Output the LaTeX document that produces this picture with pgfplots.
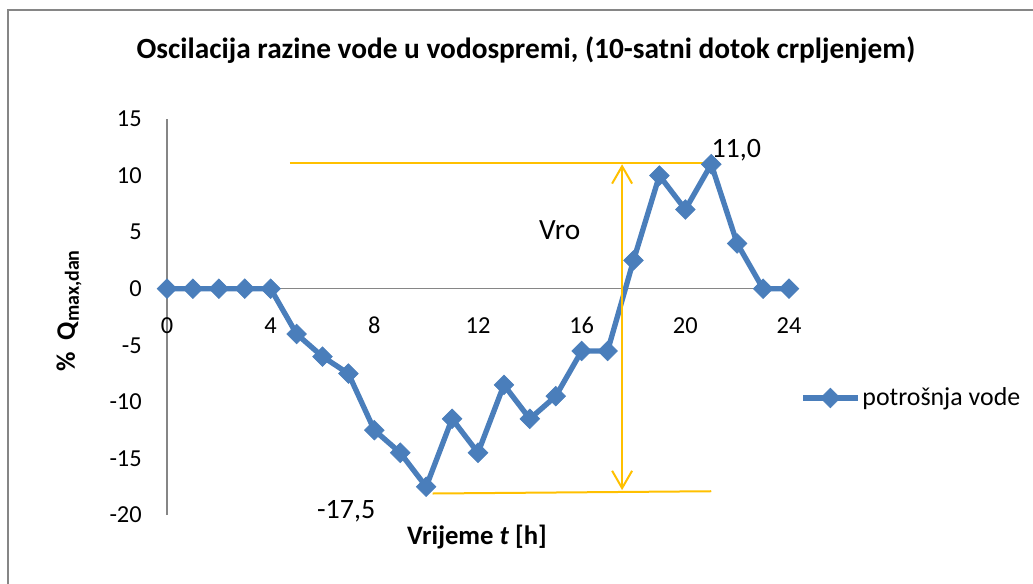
\documentclass[border=0pt]{standalone}
\usepackage{fontspec}
\setmainfont{Carlito}
\usepackage{pgfplots}
\pgfplotsset{compat=1.18}
\usetikzlibrary{arrows.meta}
\definecolor{serblue}{HTML}{4A7EBB}
\definecolor{annot}{HTML}{FFC000}
\definecolor{axgray}{HTML}{868686}

\begin{document}
\begin{tikzpicture}
% 1 px of the reference = 0.75pt, axis origin at pixel (167,515)
\useasboundingbox (-125.25pt,-51pt) rectangle (649.5pt,386.25pt);
\draw[axgray, line width=1.6pt] (-119.25pt,-60pt) -- (-119.25pt,378.75pt) -- (660pt,378.75pt);

\begin{axis}[
at={(0,0)}, anchor=south west,
scale only axis,
width=466.5pt, height=297pt,
xmin=0, xmax=24, ymin=-20, ymax=15,
enlargelimits=false,
axis lines=middle,
axis line style={-, axgray, line width=1.1pt},
xtick={0,4,...,24},
ytick={-20,-15,...,15},
major tick length=0pt,
hide obscured x ticks=false,
hide obscured y ticks=false,
/pgf/number format/assume math mode=true,
tick label style={font=\fontsize{18.3}{22}\selectfont},
xticklabel style={anchor=base, yshift=-33.75pt},
yticklabel style={anchor=east, inner sep=0pt, xshift=-18.75pt},
clip=false,
legend style={at={(1.018,0.2955)}, anchor=west, draw=none, fill=none,
  inner sep=0pt, nodes={inner sep=1.5pt}, font=\fontsize{19.4}{23}\selectfont},
legend cell align=left,
legend image code/.code={
  \draw[#1, mark repeat=2, mark phase=2] plot coordinates {(0cm,0cm) (0.72cm,0cm) (1.44cm,0cm)};
},
]
\addplot[serblue, line width=4pt, mark=square*,
  mark size=5.2pt, mark options={rotate=45, line width=0.5pt, fill=serblue}]
coordinates {
(0,0) (1,0) (2,0) (3,0) (4,0) (5,-4) (6,-6) (7,-7.5) (8,-12.5) (9,-14.5)
(10,-17.5) (11,-11.5) (12,-14.5) (13,-8.5) (14,-11.5) (15,-9.5) (16,-5.5)
(17,-5.5) (18,2.5) (19,10) (20,7) (21,11) (22,4) (23,0) (24,0)
};
\addlegendentry{potrošnja vode}

% annotation shapes
\draw[annot, line width=1.5pt] (axis cs:4.74,11.1) -- (axis cs:20.75,11.1);
\draw[annot, line width=1.5pt] (axis cs:10.25,-18.1) -- (axis cs:21.0,-17.9);
\draw[annot, line width=1.5pt,
  {Straight Barb[length=13pt,width=15pt]}-{Straight Barb[length=13pt,width=15pt]}]
  (axis cs:17.56,-17.8) -- (axis cs:17.56,11.0);
\node[font=\fontsize{22}{26}\selectfont] at (axis cs:15.15,5.13) {Vro};
\node[font=\fontsize{21}{25}\selectfont, anchor=base west, inner sep=0pt]
  at ([yshift=5.25pt]axis cs:21,11) {11,0};
\node[font=\fontsize{21}{25}\selectfont, anchor=base east, inner sep=0pt]
  at ([xshift=-38pt, yshift=-24pt]axis cs:10,-17.5) {-17,5};
\end{axis}

\node[font=\bfseries\fontsize{22}{26}\selectfont] at (269.25pt,348.75pt)
  {Oscilacija razine vode u vodospremi, (10-satni dotok crpljenjem)};
\node[font=\bfseries\fontsize{20}{24}\selectfont, rotate=90] at (-73.5pt,153pt)
  {\%\ \ Q\raisebox{-0.3ex}{\fontsize{15}{18}\selectfont max,dan}};
\node[font=\bfseries\fontsize{20}{24}\selectfont] at (232.5pt,-16.5pt)
  {Vrijeme \textit{t} [h]};
\end{tikzpicture}
\end{document}
